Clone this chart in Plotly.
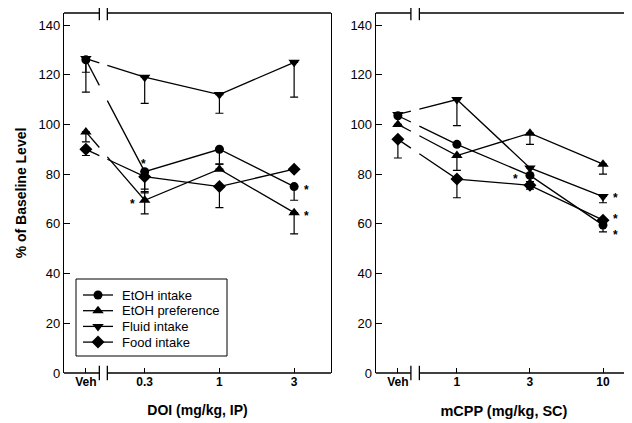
import plotly.graph_objects as go

# ---------------- data ----------------
series_names = ["EtOH intake", "EtOH preference", "Fluid intake", "Food intake"]

doi_labels = ["Veh", "0.3", "1", "3"]
doi_etoh_intake = [126, 81, 90, 75]
doi_etoh_intake_dn = [5, 7, 6, 5.5]
doi_etoh_intake_up = [0, 0, 0, 0]
doi_etoh_pref = [97, 69.5, 82, 64.5]
doi_etoh_pref_dn = [4, 5.5, 0, 8.5]
doi_etoh_pref_up = [0, 3.5, 2, 0]
doi_fluid = [126.5, 119, 112, 125]
doi_fluid_dn = [13.5, 10.5, 7.5, 14]
doi_fluid_up = [0, 0, 0, 0]
doi_food = [90, 79, 75, 82]
doi_food_dn = [2.5, 6.5, 8.5, 0]
doi_food_up = [0, 0, 0, 0]

mcpp_labels = ["Veh", "1", "3", "10"]
mcpp_etoh_intake = [103.5, 92, 79.5, 59.5]
mcpp_etoh_intake_dn = [0, 0, 0, 2.7]
mcpp_etoh_intake_up = [0, 0, 0, 0]
mcpp_etoh_pref = [100, 87.5, 96.5, 84]
mcpp_etoh_pref_dn = [0, 6, 4.5, 4]
mcpp_etoh_pref_up = [0, 0, 0, 0]
mcpp_fluid = [104, 110, 82.5, 71]
mcpp_fluid_dn = [0, 10.5, 0, 2.5]
mcpp_fluid_up = [0, 0, 0, 0]
mcpp_food = [94, 78, 75.5, 61.5]
mcpp_food_dn = [7.5, 7.5, 1.5, 0]
mcpp_food_up = [0, 0, 1.5, 0]

# significance stars: (panel, series index, dose index)
stars = [
    (0, 0, 1), (0, 1, 1), (0, 0, 3), (0, 1, 3),
    (1, 0, 2), (1, 2, 3), (1, 3, 3), (1, 0, 3),
]

# ---------------- layout config ----------------
OFF = 8  # default page body margin
W, H = 632 - OFF, 423 - OFF
ML, MR, MT, MB = 64 - OFF, 0, 13 - OFF, 50
PW, PH = W - ML - MR, H - MT - MB

symbols = ["circle", "triangle-up", "triangle-down", "diamond"]
msizes = [9, 10, 10, 10]
star_offsets = {  # pixel offsets (xshift, yshift up) of each star from its marker
    (0, 0, 1): (-1, 10), (0, 1, 1): (-12, -2), (0, 0, 3): (12, -1.5), (0, 1, 3): (12, -1.5),
    (1, 0, 2): (-14, -1.5), (1, 2, 3): (12, 1), (1, 3, 3): (12, 3), (1, 0, 3): (12, -7.5),
}

panels = [
    dict(xref="x", yref="y", dom=(0.0, 0.470), rng=(-0.08, 3.493),
         pos=[0.213, 1, 2, 3], brk=(0.393, 0.500), labels=doi_labels,
         title="DOI (mg/kg, IP)",
         vals=[doi_etoh_intake, doi_etoh_pref, doi_fluid, doi_food],
         dn=[doi_etoh_intake_dn, doi_etoh_pref_dn, doi_fluid_dn, doi_food_dn],
         up=[doi_etoh_intake_up, doi_etoh_pref_up, doi_fluid_up, doi_food_up]),
    dict(xref="x2", yref="y2", dom=(0.549, 1.0), rng=(-0.11, 3.397),
         pos=[0.192, 1, 2, 3], brk=(0.370, 0.486), labels=mcpp_labels,
         title="mCPP (mg/kg, SC)",
         vals=[mcpp_etoh_intake, mcpp_etoh_pref, mcpp_fluid, mcpp_food],
         dn=[mcpp_etoh_intake_dn, mcpp_etoh_pref_dn, mcpp_fluid_dn, mcpp_food_dn],
         up=[mcpp_etoh_intake_up, mcpp_etoh_pref_up, mcpp_fluid_up, mcpp_food_up]),
]

# legend box (figure pixels)
LEG_L, LEG_R, LEG_T, LEG_B = 76 - OFF, 227 - OFF, 279 - OFF, 356 - OFF
LEG_ROW0, LEG_DY = 295 - OFF, 15.7
LEG_LINE = (83 - OFF, 113 - OFF)
LEG_TEXT_X = 120 - OFF

FONT = "Liberation Sans, Arial, sans-serif"
LW = 1.3
fig = go.Figure()

for p in panels:
    b1, b2 = p["brk"]
    for i in range(4):
        y = p["vals"][i]
        x = p["pos"]
        f1 = (b1 - x[0]) / (x[1] - x[0])
        f2 = (b2 - x[0]) / (x[1] - x[0])
        yb1 = y[0] + (y[1] - y[0]) * f1
        yb2 = y[0] + (y[1] - y[0]) * f2
        lx = [x[0], b1, None, b2] + x[1:]
        ly = [y[0], yb1, None, yb2] + y[1:]
        fig.add_trace(go.Scatter(x=lx, y=ly, mode="lines", xaxis=p["xref"], yaxis=p["yref"],
                                 line=dict(color="black", width=LW), showlegend=False,
                                 hoverinfo="skip"))
        fig.add_trace(go.Scatter(x=x, y=y, mode="markers", xaxis=p["xref"], yaxis=p["yref"],
                                 marker=dict(symbol=symbols[i], size=msizes[i], color="black"),
                                 error_y=dict(type="data", symmetric=False, array=p["up"][i],
                                              arrayminus=p["dn"][i], color="black",
                                              thickness=1.2, width=4),
                                 showlegend=False))

# custom legend on its own pixel-unit axes
for i in range(4):
    ry = LEG_ROW0 + i * LEG_DY
    fig.add_trace(go.Scatter(x=list(LEG_LINE), y=[ry, ry], mode="lines", xaxis="x3", yaxis="y3",
                             line=dict(color="black", width=LW), showlegend=False, hoverinfo="skip"))
    fig.add_trace(go.Scatter(x=[sum(LEG_LINE) / 2], y=[ry], mode="markers", xaxis="x3", yaxis="y3",
                             marker=dict(symbol=symbols[i], size=msizes[i], color="black"),
                             showlegend=False, hoverinfo="skip"))
    fig.add_annotation(x=LEG_TEXT_X, y=ry, xref="x3", yref="y3", text=series_names[i],
                       showarrow=False, xanchor="left", yanchor="middle",
                       font=dict(family=FONT, size=13, color="black"))

# stars
for s in stars:
    pi, si, di = s
    p = panels[pi]
    xs, ys = star_offsets[s]
    fig.add_annotation(x=p["pos"][di], y=p["vals"][si][di], xref=p["xref"], yref=p["yref"],
                       text="*", showarrow=False, xshift=xs, yshift=ys,
                       height=10, valign="top", borderpad=0,
                       font=dict(family=FONT, size=12, color="black", weight="bold"))

# broken top/bottom frame lines
shapes = []
for p in panels:
    d0, d1 = p["dom"]
    r0, r1 = p["rng"]
    tp = lambda v: d0 + (v - r0) / (r1 - r0) * (d1 - d0)
    b1, b2 = p["brk"]
    for yy in (0, 1):
        shapes.append(dict(type="line", xref="paper", yref="paper", x0=d0, x1=tp(b1), y0=yy, y1=yy,
                           line=dict(color="black", width=LW)))
        shapes.append(dict(type="line", xref="paper", yref="paper", x0=tp(b2), x1=d1, y0=yy, y1=yy,
                           line=dict(color="black", width=LW)))
        for bb in (b1, b2):
            shapes.append(dict(type="line", xref="paper", yref="paper", x0=tp(bb), x1=tp(bb),
                               y0=yy - 0.02, y1=yy + 0.02, line=dict(color="black", width=LW)))
shapes.append(dict(type="rect", xref="x3", yref="y3", x0=LEG_L, x1=LEG_R, y0=LEG_T, y1=LEG_B,
                   line=dict(color="black", width=1), fillcolor="white", layer="below"))

fig.update_layout(shapes=shapes)

common_x = dict(showgrid=False, zeroline=False, showline=False, ticks="inside", ticklen=5,
                tickcolor="black", tickwidth=LW, automargin=False,
                tickfont=dict(family=FONT, size=12, color="black", weight="bold"))
common_y = dict(range=[0, 144.83], dtick=20, tick0=0, showgrid=False, zeroline=False,
                showline=True, linecolor="black", linewidth=LW, ticks="inside", ticklen=6,
                tickcolor="black", tickwidth=LW, automargin=False,
                tickfont=dict(family=FONT, size=13, color="black"))
title_font = dict(family=FONT, size=14, color="black", weight="bold")

fig.update_layout(
    xaxis=dict(domain=list(panels[0]["dom"]), range=list(panels[0]["rng"]),
               tickvals=panels[0]["pos"], ticktext=panels[0]["labels"], anchor="y",
               title=dict(text=panels[0]["title"], standoff=17, font=title_font), **common_x),
    xaxis2=dict(domain=list(panels[1]["dom"]), range=list(panels[1]["rng"]),
                tickvals=panels[1]["pos"], ticktext=panels[1]["labels"], anchor="y2",
                title=dict(text=panels[1]["title"], standoff=17,
                           font=dict(family=FONT, size=14.5, color="black", weight="bold")),
                **common_x),
    yaxis=dict(anchor="x", mirror=True,
               title=dict(text="% of Baseline Level", standoff=8, font=title_font), **common_y),
    yaxis2=dict(anchor="x2", **common_y),
    xaxis3=dict(domain=[(LEG_L - 6 - ML) / PW, (LEG_R + 6 - ML) / PW],
                range=[LEG_L - 6, LEG_R + 6], visible=False, anchor="y3", fixedrange=True),
    yaxis3=dict(domain=[(H - MB - (LEG_B + 6)) / PH, (H - MB - (LEG_T - 6)) / PH],
                range=[LEG_B + 6, LEG_T - 6], visible=False, anchor="x3", fixedrange=True),
    width=W, height=H,
    margin=dict(l=ML, r=MR, t=MT, b=MB),
    paper_bgcolor="white", plot_bgcolor="rgba(0,0,0,0)",
    font=dict(family=FONT, color="black"),
    showlegend=False,
)

fig.write_html("out.html")
